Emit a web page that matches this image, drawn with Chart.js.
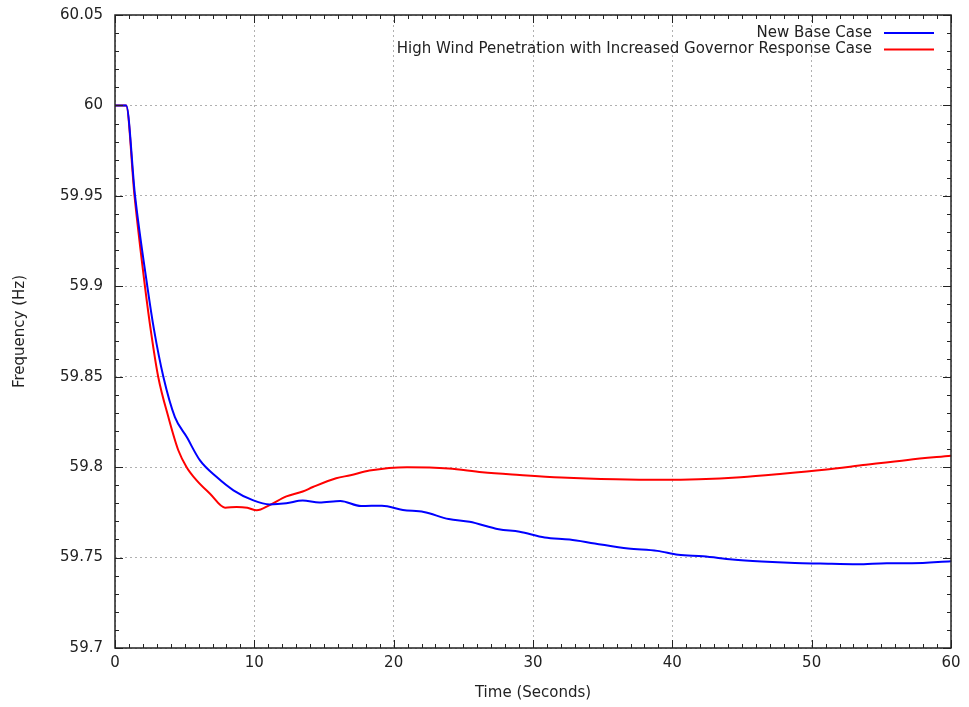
<!DOCTYPE html>
<html>
<head>
<meta charset="utf-8">
<script src="https://cdn.jsdelivr.net/npm/chart.js@4/dist/chart.umd.min.js"></script>
<style>
  body { margin: 0; background: #fff; }
  #wrap { width: 969px; height: 707px; position: relative; }
</style>
</head>
<body>
<div id="wrap"><canvas id="freq"></canvas></div>
<script>
// time (s) and frequency (Hz)
const timeBase = [0, 0.8, 1.44, 2.32, 2.8, 3.47, 4.3, 5.15, 6.1, 7.3, 8.5, 9.93, 11.1, 12.3, 13.47, 14.67, 16.17, 17.66, 19.16, 20.66, 22.16, 23.95, 25.45, 27.54, 29.04, 30.84, 32.63, 34.43, 36.83, 38.92, 40.42, 42.22, 44.31, 46.41, 48.8, 50.6, 53.3, 55.39, 57.19, 60];
const freqBase = [60, 60, 59.95, 59.9, 59.876, 59.85, 59.8277, 59.8166, 59.8037, 59.7945, 59.7872, 59.7816, 59.7794, 59.78, 59.7815, 59.7804, 59.7813, 59.7785, 59.7787, 59.7763, 59.7752, 59.7713, 59.7698, 59.7657, 59.7643, 59.7611, 59.76, 59.7578, 59.755, 59.7537, 59.7515, 59.7507, 59.7489, 59.7478, 59.747, 59.7467, 59.7463, 59.7469, 59.7469, 59.748];

const timeWind = [0, 0.8, 1.4, 2.15, 2.6, 3.1, 3.83, 4.55, 5.14, 5.86, 6.82, 7.9, 8.73, 9.5, 10.17, 11.1, 12.3, 13.47, 14.2, 15.87, 16.9, 18.26, 20.96, 23.95, 26.35, 29.04, 32.04, 35.93, 39.22, 41.9, 44.9, 47.9, 50.9, 53.9, 56.9, 60];
const freqWind = [60, 60, 59.95, 59.9, 59.874, 59.85, 59.8277, 59.8092, 59.80, 59.7927, 59.7853, 59.7776, 59.778, 59.7775, 59.7761, 59.779, 59.7838, 59.7865, 59.789, 59.7939, 59.7955, 59.7981, 59.80, 59.7993, 59.7972, 59.7957, 59.7943, 59.7933, 59.793, 59.7933, 59.7944, 59.7963, 59.7985, 59.8013, 59.804, 59.8063];

const seriesNames = ['New Base Case', 'High Wind Penetration with Increased Governor Response Case'];
const seriesColors = ['#0000ff', '#ff0000'];

const FONT = '"DejaVu Sans", sans-serif';
const INK = '#222';

function toPoints(xs, ys) {
    return xs.map((x, i) => ({ x: x, y: ys[i] }));
}

// frame, inward ticks on all sides, legend top right
const framePlugin = {
    id: 'frame',
    afterDraw(chart) {
        const { ctx, chartArea: a, scales } = chart;
        const xs = scales.x, ys = scales.y;
        ctx.save();
        ctx.strokeStyle = INK;
        ctx.lineWidth = 1;
        ctx.beginPath();
        for (let t = 0; t <= 60; t += 1) {
            const px = Math.round(xs.getPixelForValue(t)) + 0.5;
            const len = t % 10 === 0 ? 8 : 4;
            ctx.moveTo(px, a.bottom); ctx.lineTo(px, a.bottom - len);
            ctx.moveTo(px, a.top); ctx.lineTo(px, a.top + len);
        }
        for (let k = 0; k <= 35; k++) {
            const py = Math.round(ys.getPixelForValue(59.7 + k * 0.01)) + 0.5;
            const len = k % 5 === 0 ? 8 : 4;
            ctx.moveTo(a.left, py); ctx.lineTo(a.left + len, py);
            ctx.moveTo(a.right, py); ctx.lineTo(a.right - len, py);
        }
        ctx.stroke();
        ctx.lineWidth = 1.5;
        ctx.strokeRect(a.left, a.top, a.right - a.left, a.bottom - a.top);

        // legend
        ctx.font = '15px ' + FONT;
        ctx.textAlign = 'right';
        ctx.textBaseline = 'middle';
        ctx.lineWidth = 2;
        seriesNames.forEach((name, i) => {
            const y = a.top + 18 + i * 16.5;
            ctx.fillStyle = INK;
            ctx.fillText(name, a.right - 79, y);
            ctx.strokeStyle = seriesColors[i];
            ctx.beginPath();
            ctx.moveTo(a.right - 67, y);
            ctx.lineTo(a.right - 17, y);
            ctx.stroke();
        });
        ctx.restore();
    }
};

const ctx = document.getElementById('freq');
const freqChart = new Chart(ctx, {
    type: 'line',
    data: {
        datasets: [{
            label: seriesNames[0],
            data: toPoints(timeBase, freqBase),
            borderColor: seriesColors[0],
            borderWidth: 2,
            pointRadius: 0,
            cubicInterpolationMode: 'monotone'
        }, {
            label: seriesNames[1],
            data: toPoints(timeWind, freqWind),
            borderColor: seriesColors[1],
            borderWidth: 2,
            pointRadius: 0,
            cubicInterpolationMode: 'monotone'
        }]
    },
    options: {
        animation: false,
        responsive: true,
        maintainAspectRatio: false,
        layout: { padding: { top: 15, right: 18, left: 0, bottom: 0 } },
        plugins: {
            legend: { display: false },
            tooltip: { enabled: false }
        },
        scales: {
            x: {
                type: 'linear',
                min: 0,
                max: 60,
                afterFit(scale) { scale.height = 59; },
                ticks: { stepSize: 10, padding: 6, color: INK, font: { family: FONT, size: 15 } },
                grid: { color: '#b0b0b0', lineWidth: 1, drawTicks: false },
                border: { display: false, dash: [2, 3] },
                title: { display: true, text: 'Time (Seconds)', color: INK, font: { family: FONT, size: 15 }, padding: { top: 0, bottom: 5 } }
            },
            y: {
                min: 59.7,
                max: 60.05,
                afterFit(scale) {
                    scale.width = 115;
                    scale.paddingTop = 0;
                    scale.paddingBottom = 0;
                },
                ticks: {
                    stepSize: 0.05,
                    padding: 12,
                    color: INK,
                    font: { family: FONT, size: 15 },
                    callback: v => String(parseFloat(v.toFixed(2)))
                },
                grid: { color: '#b0b0b0', lineWidth: 1, drawTicks: false },
                border: { display: false, dash: [2, 3] },
                title: { display: true, text: 'Frequency (Hz)', color: INK, font: { family: FONT, size: 15 }, padding: { top: 11, bottom: 0 } }
            }
        }
    },
    plugins: [framePlugin]
});
</script>
</body>
</html>
